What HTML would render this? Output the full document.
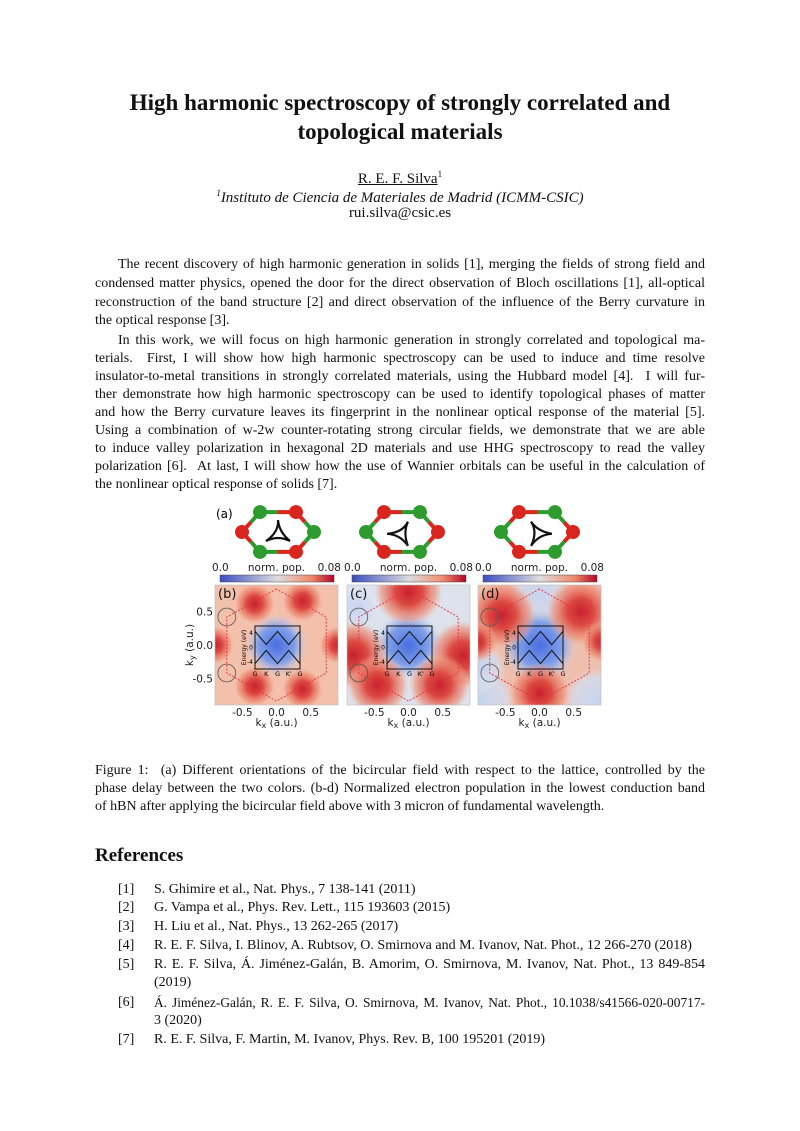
<!DOCTYPE html>
<html><head><meta charset="utf-8">
<style>
body{margin:0;background:#fff;}
#page{position:relative;width:800px;height:1131px;overflow:hidden;font-family:"Liberation Serif",serif;color:#111;}
.t{position:absolute;left:0;width:800px;text-align:center;}
.l{position:absolute;left:95px;width:610px;font-size:14px;line-height:18px;text-align:justify;text-align-last:justify;}
.r{position:absolute;left:118px;font-size:14px;line-height:18px;}
.rt{position:absolute;left:154px;width:551px;font-size:14px;line-height:18px;text-align:justify;text-align-last:justify;}
.n{text-align-last:left !important;}
svg text{font-family:"DejaVu Sans",sans-serif;}
</style></head><body>
<div id="page">
<div class="t" style="top:88px;font-size:23px;font-weight:bold;line-height:29px;">High harmonic spectroscopy of strongly correlated and<br>topological materials</div>
<div class="t" style="top:169px;font-size:15px;"><u>R. E. F. Silva</u><sup style="font-size:9px">1</sup></div>
<div class="t" style="top:188px;font-size:15px;font-style:italic;"><sup style="font-size:9px">1</sup>Instituto de Ciencia de Materiales de Madrid (ICMM-CSIC)</div>
<div class="t" style="top:205px;font-size:15px;">rui.silva@csic.es</div>

<div>
<div class="l" style="top:256px;padding-left:23px;width:587px;">The recent discovery of high harmonic generation in solids [1], merging the fields of strong field and</div>
<div class="l" style="top:275px;">condensed matter physics, opened the door for the direct observation of Bloch oscillations [1], all-optical</div>
<div class="l" style="top:294px;">reconstruction of the band structure [2] and direct observation of the influence of the Berry curvature in</div>
<div class="l n" style="top:312px;">the optical response [3].</div>
</div>
<div>
<div class="l" style="top:332px;padding-left:23px;width:587px;">In this work, we will focus on high harmonic generation in strongly correlated and topological ma-</div>
<div class="l" style="top:350px;">terials. &nbsp;First, I will show how high harmonic spectroscopy can be used to induce and time resolve</div>
<div class="l" style="top:368px;">insulator-to-metal transitions in strongly correlated materials, using the Hubbard model [4]. &nbsp;I will fur-</div>
<div class="l" style="top:386px;">ther demonstrate how high harmonic spectroscopy can be used to identify topological phases of matter</div>
<div class="l" style="top:404px;">and how the Berry curvature leaves its fingerprint in the nonlinear optical response of the material [5].</div>
<div class="l" style="top:422px;">Using a combination of w-2w counter-rotating strong circular fields, we demonstrate that we are able</div>
<div class="l" style="top:440px;">to induce valley polarization in hexagonal 2D materials and use HHG spectroscopy to read the valley</div>
<div class="l" style="top:458px;">polarization [6]. &nbsp;At last, I will show how the use of Wannier orbitals can be useful in the calculation of</div>
<div class="l n" style="top:476px;">the nonlinear optical response of solids [7].</div>
</div>

<svg id="fig" width="800" height="1131" style="position:absolute;left:0;top:0;">
<defs>
<linearGradient id="cw" x1="0" x2="1" y1="0" y2="0">
<stop offset="0" stop-color="#3b4cc0"/><stop offset="0.5" stop-color="#dddddd"/><stop offset="0.8" stop-color="#f08a6c"/><stop offset="1" stop-color="#b40426"/>
</linearGradient>
<radialGradient id="rb"><stop offset="0" stop-color="#c8202f"/><stop offset="0.4" stop-color="#dc4a42"/><stop offset="0.8" stop-color="#ee8c74" stop-opacity="0.6"/><stop offset="1" stop-color="#f2b7a0" stop-opacity="0"/></radialGradient>
<radialGradient id="bb"><stop offset="0" stop-color="#4a6ee0"/><stop offset="0.6" stop-color="#7f9fe9"/><stop offset="1" stop-color="#c9d6f2" stop-opacity="0"/></radialGradient>
<radialGradient id="lb"><stop offset="0" stop-color="#c6d4f1"/><stop offset="0.7" stop-color="#d3ddf0" stop-opacity="0.8"/><stop offset="1" stop-color="#dfe3ee" stop-opacity="0"/></radialGradient>
</defs>
<g id="mols"></g>
<g id="panels"></g>
</svg>

<div>
<div class="l" style="top:762px;">Figure 1: &nbsp;(a) Different orientations of the bicircular field with respect to the lattice, controlled by the</div>
<div class="l" style="top:780px;">phase delay between the two colors. (b-d) Normalized electron population in the lowest conduction band</div>
<div class="l n" style="top:798px;">of hBN after applying the bicircular field above with 3 micron of fundamental wavelength.</div>
</div>

<div style="position:absolute;left:95px;top:845px;font-size:19px;font-weight:bold;">References</div>
<div>
<div class="r" style="top:881px;">[1]</div><div class="rt n" style="top:881px;">S. Ghimire et al., Nat. Phys., 7 138-141 (2011)</div>
<div class="r" style="top:899px;">[2]</div><div class="rt n" style="top:899px;">G. Vampa et al., Phys. Rev. Lett., 115 193603 (2015)</div>
<div class="r" style="top:918px;">[3]</div><div class="rt n" style="top:918px;">H. Liu et al., Nat. Phys., 13 262-265 (2017)</div>
<div class="r" style="top:937px;">[4]</div><div class="rt n" style="top:937px;">R. E. F. Silva, I. Blinov, A. Rubtsov, O. Smirnova and M. Ivanov, Nat. Phot., 12 266-270 (2018)</div>
<div class="r" style="top:956px;">[5]</div><div class="rt" style="top:956px;">R. E. F. Silva, Á. Jiménez-Galán, B. Amorim, O. Smirnova, M. Ivanov, Nat. Phot., 13 849-854</div>
<div class="rt n" style="top:974px;">(2019)</div>
<div class="r" style="top:994px;">[6]</div><div class="rt" style="top:994px;font-size:13.4px;">Á. Jiménez-Galán, R. E. F. Silva, O. Smirnova, M. Ivanov, Nat. Phot., 10.1038/s41566-020-00717-</div>
<div class="rt n" style="top:1012px;">3 (2020)</div>
<div class="r" style="top:1031px;">[7]</div><div class="rt n" style="top:1031px;">R. E. F. Silva, F. Martin, M. Ivanov, Phys. Rev. B, 100 195201 (2019)</div>
</div>
</div>

<script>
const panelLabels = ["(b)", "(c)", "(d)"];
const xTicks = [-0.5, 0.0, 0.5];
const yTicks = [0.5, 0.0, -0.5];
const cbarTicks = ["0.0", "0.08"];
const panelBase = ["#f3c0ab", "#dde2ec", "#efbfae"];
const blobsB = [[-0.32,0.62,0.3,"r"],[0.38,0.66,0.3,"r"],[-0.9,0.0,0.28,"r"],[0.9,0.0,0.28,"r"],[-0.32,-0.62,0.3,"r"],[0.38,-0.66,0.3,"r"],[0,0,0.45,"b"]];
const blobsC = [[0.0,0.8,0.5,"r"],[-0.8,-0.15,0.5,"r"],[0.8,-0.15,0.5,"r"],[-0.45,-0.6,0.45,"r"],[0.45,-0.6,0.45,"r"],[-0.75,0.55,0.3,"l"],[0,0,0.5,"b"]];
const blobsD = [[0.0,0.75,0.45,"l"],[-0.85,-0.85,0.5,"l"],[0.85,-0.85,0.5,"l"],[-0.85,-0.35,0.35,"l"],[0,0,0.55,"b"],[-0.55,0.45,0.5,"r"],[0.6,0.5,0.5,"r"],[0.0,-0.72,0.45,"r"],[-0.92,0.05,0.3,"r"],[0.92,0.05,0.3,"r"]];
const panelBlobs = [blobsB, blobsC, blobsD];
const bandK = [0, 1, 2, 3, 4];
const bandUpper = [4.5, 0.8, 4.5, 0.8, 4.5];
const bandLower = [-4.5, -0.8, -4.5, -0.8, -4.5];
const bandTicks = ["G","K","G","K'","G"];

const NS = "http://www.w3.org/2000/svg";
const panelsG = document.getElementById("panels");
const molsG = document.getElementById("mols");
const PX = [215, 347, 478], PY = 585, PW = 123, PH = 120;
function sx(i, k){ return PX[i] + (k + 0.9) / 1.8 * PW; }
function sy(k){ return PY + (0.9 - k) / 1.8 * PH; }
function mk(tag, attrs, parent){ const e = document.createElementNS(NS, tag); for (const a in attrs) e.setAttribute(a, attrs[a]); parent.appendChild(e); return e; }

const molCx = [278, 402, 537], molCy = 532;
const rot = [0, 30, -30];
for (let m = 0; m < 3; m++) {
  const g = mk("g", {transform: "translate(" + molCx[m] + "," + molCy + ")"}, molsG);
  
  
  const pts = [];
  for (let j = 0; j < 6; j++) { const a = (j * 60) * Math.PI / 180; pts.push([36 * Math.cos(a), 23 * Math.sin(a)]); }
  const base = ["#2e9b2e","#d8261e","#2e9b2e","#d8261e","#2e9b2e","#d8261e"];
  const cols = m === 0 ? base : base.slice().reverse();
  for (let j = 0; j < 6; j++) {
    const p = pts[j], q = pts[(j + 1) % 6];
    const mx = (p[0] + q[0]) / 2, my = (p[1] + q[1]) / 2;
    mk("line", {x1:p[0], y1:p[1], x2:mx, y2:my, stroke:cols[j], "stroke-width":4}, g);
    mk("line", {x1:mx, y1:my, x2:q[0], y2:q[1], stroke:cols[(j+1)%6], "stroke-width":4}, g);
  }
  for (let j = 0; j < 6; j++) mk("circle", {cx:pts[j][0], cy:pts[j][1], r:7, fill:cols[j]}, g);
  mk("path", {d:"M0,-12 Q1,0 -12,9 Q0,3 12,9 Q1,0 0,-12", fill:"none", stroke:"#111", "stroke-width":2.2, transform:"rotate(" + rot[m] + ")"}, g);
}
const la = mk("text", {x:216, y:518, "font-size":12}, molsG); la.textContent = "(a)";



for (let i = 0; i < 3; i++) {
  const g = mk("g", {}, panelsG);
  
  
  const cbx = PX[i] + 5, cbw = PW - 9;
  const cb = mk("rect", {x:cbx, y:575, width:cbw, height:7, fill:"url(#cw)", stroke:"#444", "stroke-width":0.5}, g);
  
  
  const c0 = mk("text", {x:PX[i] - 3, y:571, "font-size":10.5, fill:"#222"}, g); c0.textContent = cbarTicks[0];
  const c1 = mk("text", {x:PX[i] + PW + 3, y:571, "font-size":10.5, fill:"#222", "text-anchor":"end"}, g); c1.textContent = cbarTicks[1];
  const ct = mk("text", {x:PX[i] + PW / 2, y:571, "font-size":10.5, fill:"#222", "text-anchor":"middle"}, g); ct.textContent = "norm. pop.";
  
  
  const clip = mk("clipPath", {id:"cp" + i}, g);
  mk("rect", {x:PX[i], y:PY, width:PW, height:PH}, clip);
  const hm = mk("g", {"clip-path":"url(#cp" + i + ")"}, g);
  mk("rect", {x:PX[i], y:PY, width:PW, height:PH, fill:panelBase[i]}, hm);
  const bl = panelBlobs[i];
  const order = bl.filter(b => b[3] !== "r").concat(bl.filter(b => b[3] === "r"));
  for (const b of order) {
    const rr = b[2] / 1.8 * PW;
    const c = mk("ellipse", {cx:sx(i, b[0]), cy:sy(b[1]), rx:rr, ry:rr, fill: b[3] === "r" ? "url(#rb)" : (b[3] === "b" ? "url(#bb)" : "url(#lb)")}, hm);
    
    
  }
  const R = 0.84; let hp = [];
  for (let j = 0; j < 6; j++) { const a = (90 + j * 60) * Math.PI / 180; hp.push(sx(i, R * Math.cos(a)) + "," + sy(R * Math.sin(a))); }
  const hx = mk("polygon", {points:hp.join(" "), fill:"none", stroke:"#e8303a", "stroke-width":0.9, "stroke-dasharray":"2,1.5"}, hm);
  
  
  for (const s of [1, -1]) {
    const vc = mk("circle", {cx:sx(i, -0.727), cy:sy(s * 0.42), r:0.13 / 1.8 * PW, fill:"none", stroke:"#555", "stroke-width":0.8}, hm);
    
    
  }
  mk("rect", {x:PX[i], y:PY, width:PW, height:PH, fill:"none", stroke:"#bbb", "stroke-width":0.6}, g);
  const pl = mk("text", {x:PX[i] + 3, y:PY + 13, "font-size":13, fill:"#111"}, g); pl.textContent = panelLabels[i];
  
  
  const ix = PX[i] + 40, iy = PY + 41, iw = 45, ih = 43;
  const inset = mk("g", {}, g);
  
  
  const bx = k => ix + k / 4 * iw, by = e => iy + (6 - e) / 12 * ih;
  mk("rect", {x:ix, y:iy, width:iw, height:ih, fill:"none", stroke:"#111", "stroke-width":1}, inset);
  for (const band of [bandUpper, bandLower]) {
    let d = "";
    bandK.forEach((k, j) => { d += (j ? "L" : "M") + bx(k) + "," + by(band[j]); });
    mk("path", {d:d, fill:"none", stroke:"#111", "stroke-width":1}, inset);
  }
  bandTicks.forEach((t, j) => { const tt = mk("text", {x:bx(bandK[j]), y:iy + ih + 7, "font-size":6.5, "text-anchor":"middle"}, inset); tt.textContent = t; });
  [4, 0, -4].forEach(e => { const tt = mk("text", {x:ix - 2, y:by(e) + 2, "font-size":6, "text-anchor":"end"}, inset); tt.textContent = e; });
  const el = mk("text", {x:0, y:0, "font-size":6, "text-anchor":"middle", transform:"translate(" + (ix - 9) + "," + (iy + ih / 2) + ") rotate(-90)"}, inset); el.textContent = "Energy (eV)";
  for (const t of xTicks) {
    const tx = mk("text", {x:sx(i, t), y:PY + PH + 11, "font-size":10.5, "text-anchor":"middle", fill:"#222"}, g); tx.textContent = t.toFixed(1);
    
    
  }
  const xl = mk("text", {x:PX[i] + PW / 2, y:PY + PH + 21, "font-size":10.5, "text-anchor":"middle", fill:"#222"}, g);
  xl.innerHTML = "k<tspan font-size='8' dy='2'>x</tspan><tspan dy='-2'> (a.u.)</tspan>";
  
  
}
for (const t of yTicks) {
  const ty = mk("text", {x:213, y:sy(t) + 4, "font-size":10.5, "text-anchor":"end", fill:"#222"}, panelsG); ty.textContent = t.toFixed(1);
  
  
}
const yl = mk("text", {x:0, y:0, "font-size":10.5, "text-anchor":"middle", fill:"#222", transform:"translate(193,645) rotate(-90)"}, panelsG);
yl.innerHTML = "k<tspan font-size='8' dy='2'>y</tspan><tspan dy='-2'> (a.u.)</tspan>";


</script>
</body></html>
